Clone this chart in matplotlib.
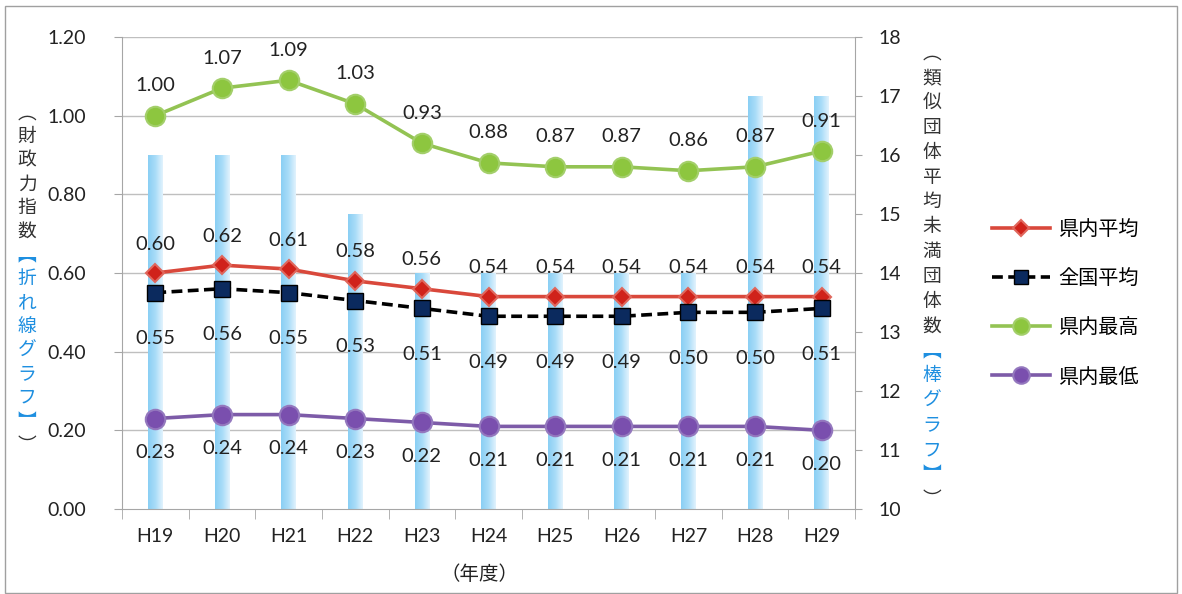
import numpy as np
import matplotlib
matplotlib.use("Agg")
import matplotlib.pyplot as plt
import matplotlib.colors as mcolors
from matplotlib.patches import Rectangle

plt.rcParams['font.family'] = ['Lato', 'Noto Sans CJK JP', 'DejaVu Sans']

# --- data ---
years = ['H19', 'H20', 'H21', 'H22', 'H23', 'H24', 'H25', 'H26', 'H27', 'H28', 'H29']
bar_counts = [16, 16, 16, 15, 14, 14, 14, 14, 14, 17, 17]          # 類似団体平均未満団体数
pref_avg = [0.60, 0.62, 0.61, 0.58, 0.56, 0.54, 0.54, 0.54, 0.54, 0.54, 0.54]
nat_avg = [0.55, 0.56, 0.55, 0.53, 0.51, 0.49, 0.49, 0.49, 0.50, 0.50, 0.51]
pref_max = [1.00, 1.07, 1.09, 1.03, 0.93, 0.88, 0.87, 0.87, 0.86, 0.87, 0.91]
pref_min = [0.23, 0.24, 0.24, 0.23, 0.22, 0.21, 0.21, 0.21, 0.21, 0.21, 0.20]
left_ticks = [0.0, 0.2, 0.4, 0.6, 0.8, 1.0, 1.2]
right_ticks = list(range(10, 19))

W, H = 1182, 594
fig = plt.figure(figsize=(W / 100, H / 100), dpi=100)
ax = fig.add_axes([122 / W, 1 - 509 / H, (855 - 122) / W, (509 - 37) / H])
ax2 = ax.twinx()

x = np.arange(len(years))
grey = '#A6A6A6'

# --- bars (right axis) with a horizontal gradient ---
ax.set_xlim(-0.5, len(years) - 0.5)
ax.set_ylim(10, 18)
bars = ax.bar(x, [b - 10 for b in bar_counts], bottom=10, width=0.22,
              facecolor='none', edgecolor='none', zorder=2)
grad_cmap = mcolors.LinearSegmentedColormap.from_list('bluegrad', ['#8ACFF4', '#A9DCF8', '#E2F3FD'])
grad = np.linspace(0, 1, 64).reshape(1, -1)
for r in bars:
    x0, y0 = r.get_x(), r.get_y()
    im = ax.imshow(grad, cmap=grad_cmap, aspect='auto', zorder=2,
                   extent=(x0, x0 + r.get_width(), y0, y0 + r.get_height()))
    im.set_clip_path(r)
ax.set_xlim(-0.5, len(years) - 0.5)
ax.set_ylim(10, 18)

# horizontal gridlines matching the left axis ticks
for v in left_ticks[1:]:
    ax.axhline(10 + v / 1.2 * 8, color='#BFBFBF', lw=1, zorder=1)

ax.yaxis.tick_right()
ax.set_yticks(right_ticks)
ax.tick_params(axis='y', direction='out', length=5, color=grey, labelsize=14, pad=12, labelcolor='#222222')
ax.set_xticks(x)
ax.set_xticklabels(years)
ax.set_xticks(np.arange(-0.5, len(years)), minor=True)
ax.tick_params(axis='x', which='major', length=0, labelsize=14, pad=14, labelcolor='#222222')
ax.tick_params(axis='x', which='minor', length=7, color=grey, direction='out')
for s in ['left', 'right', 'bottom']:
    ax.spines[s].set_color(grey)
ax.spines['top'].set_visible(False)

# --- lines (left axis) ---
ax2.set_ylim(0, 1.2)
ax2.set_yticks(left_ticks)
ax2.set_yticklabels([f'{v:.2f}' for v in left_ticks])
ax2.yaxis.tick_left()
ax2.tick_params(axis='y', direction='out', length=6, color=grey, labelsize=14, pad=20, labelcolor='#222222')
for s in ax2.spines.values():
    s.set_visible(False)

series = [
    ('県内平均', pref_avg, dict(color='#D9483B', marker='D', ms=9.5, mfc='#D0221A', mec='#E0675C', mew=1.5, ls='-'), 29),
    ('全国平均', nat_avg, dict(color='black', marker='s', ms=12, mfc='#0B2A5E', mec='#000000', mew=1, ls=(0, (3, 1.5))), -46),
    ('県内最高', pref_max, dict(color='#93C353', marker='o', ms=14, mfc='#8DC63F', mec='#A3CF6A', mew=1.5, ls='-'), 30),
    ('県内最低', pref_min, dict(color='#7D5BA8', marker='o', ms=14, mfc='#7A4FAE', mec='#9478BE', mew=1.5, ls='-'), -34),
]
handles = []
for name, vals, style, off in series:
    ln, = ax2.plot(x, vals, lw=2.6, label=name, zorder=3, **style)
    handles.append(ln)
    for xi, v in zip(x, vals):
        ax2.annotate(f'{v:.2f}', (xi, v), xytext=(0, off), textcoords='offset pixels',
                     ha='center', va='center', fontsize=14.5, color='#222222')

# --- legend ---
fig.legend(handles=handles, loc='upper left', bbox_to_anchor=(982 / W, 1 - 209 / H),
           frameon=False, fontsize=14.5, numpoints=1, handlelength=2.9,
           handletextpad=0.4, labelspacing=1.5, borderpad=0, markerscale=0.85)

# --- vertical axis titles (one char per line, part in blue) ---
def vertical_label(parts, xc, ytop, step, size):
    y = ytop
    for text, col in parts:
        for ch in text:
            fig.text(xc / W, 1 - y / H, ch, ha='center', va='center', fontsize=size,
                     color=col, family=['Noto Sans CJK JP'])
            y += step

blue = '#1E8FE0'
vertical_label([('\ufe35財政力指数', '#333333'), ('\ufe3b折れ線グラフ\ufe3c', blue), ('\ufe36', '#333333')],
               27, 113, 23.7, 13.5)
vertical_label([('\ufe35類似団体平均未満団体数', '#333333'), ('\ufe3b棒グラフ\ufe3c', blue), ('\ufe36', '#333333')],
               932, 53, 24.8, 13.5)

fig.text(480 / W, 1 - 575 / H, '（年度）', ha='center', va='center', fontsize=14, color='#222222',
         family=['Noto Sans CJK JP'])

# outer frame
fig.add_artist(Rectangle((5 / W, 0.002), 1 - 10 / W, 1 - 7 / H, transform=fig.transFigure,
                         fill=False, edgecolor='#A0A0A0', lw=1))

fig.savefig('out.png', dpi=100)
